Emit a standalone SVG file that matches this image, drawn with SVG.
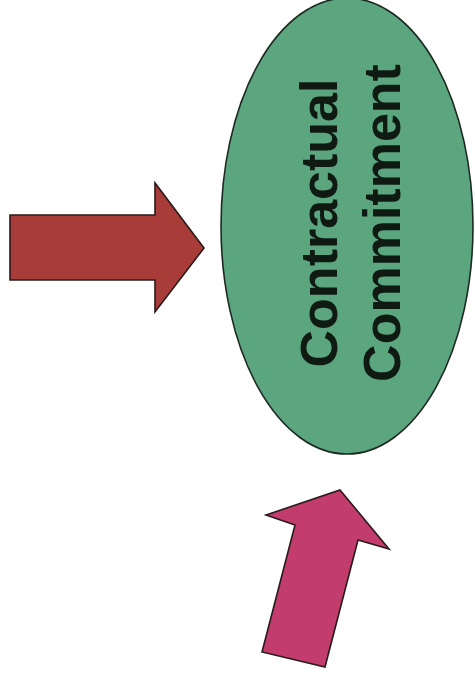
<svg xmlns="http://www.w3.org/2000/svg" width="475" height="682" viewBox="0 0 475 682">
<style>
.node-shape{stroke:#1c2a22;stroke-width:1.6}
.arrow{stroke:#2a1a1a;stroke-width:1.6;stroke-linejoin:miter}
.label{font-family:"Liberation Sans",Arial,sans-serif;font-weight:bold;font-size:52px;fill:#0f1a12;text-anchor:middle}
</style>
<rect width="475" height="682" fill="#ffffff"/>
<g id="commitment">
<ellipse class="node-shape" cx="347" cy="226" rx="126" ry="228" fill="#5ba67f"/>
<text class="label" transform="translate(337,223) rotate(-90)">Contractual</text>
<text class="label" transform="translate(400,223) rotate(-90)">Commitment</text>
</g>
<g id="connectors">
<polygon id="arrow-red" class="arrow" fill="#a83c38" points="10,215 155,215 155,183 204,248 155,312 155,280 10,280"/>
<polygon id="arrow-pink" class="arrow" fill="#c23d6e" points="340,490 389,549 358,540 325,667 262,652 295,525 266,515"/>
</g>
</svg>
